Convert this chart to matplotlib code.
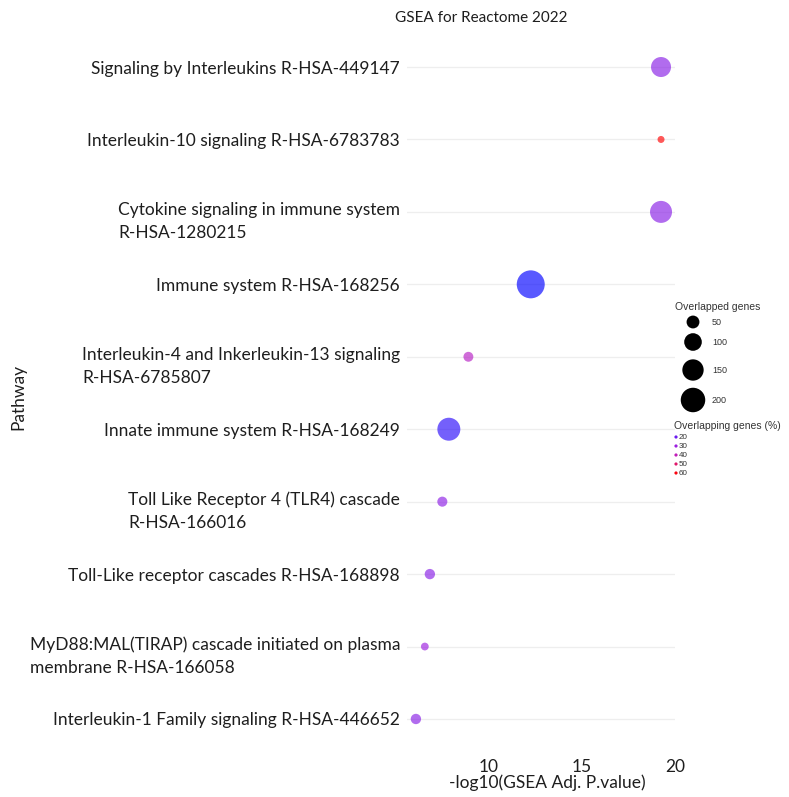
import numpy as np
import matplotlib
matplotlib.use('Agg')
import matplotlib.pyplot as plt
from matplotlib.colors import LinearSegmentedColormap, Normalize

# pathways, top to bottom
pathways = [
    'Signaling by Interleukins R-HSA-449147',
    'Interleukin-10 signaling R-HSA-6783783',
    'Cytokine signaling in immune system\nR-HSA-1280215',
    'Immune system R-HSA-168256',
    'Interleukin-4 and Inkerleukin-13 signaling\nR-HSA-6785807',
    'Innate immune system R-HSA-168249',
    'Toll Like Receptor 4 (TLR4) cascade\nR-HSA-166016',
    'Toll-Like receptor cascades R-HSA-168898',
    'MyD88:MAL(TIRAP) cascade initiated on plasma\nmembrane R-HSA-166058',
    'Interleukin-1 Family signaling R-HSA-446652',
]
log_padj = [19.25, 19.25, 19.25, 12.25, 8.9, 7.85, 7.5, 6.83, 6.56, 6.08]
overlap_genes = [131, 10, 160, 263, 27, 175, 28, 30, 14, 30]
overlap_pct = [26, 62, 26, 10, 37, 14, 27, 26, 30, 26]

size_breaks = [50, 100, 150, 200]
pct_breaks = [20, 30, 40, 50, 60]

# blue -> purple -> red gradient for the overlap percentage
cmap = LinearSegmentedColormap.from_list(
    'pct', [(0.0, '#0000ff'), (0.19, '#6a1bf0'), (0.38, '#9a1ee0'),
            (0.58, '#c21cb8'), (0.77, '#e0186a'), (1.0, '#ff0000')])
norm = Normalize(vmin=10, vmax=62)


def diam_px(n):
    """marker diameter in pixels for a gene count (area scales with count)"""
    return np.sqrt(2.9 * np.asarray(n, dtype=float) + 20)


def size_pts2(n):
    return (diam_px(n) * 0.72) ** 2


W, H = 789, 797
fig = plt.figure(figsize=(W / 100, H / 100), dpi=100)
ax = fig.add_axes([0.5158, 0.0479, 0.3397, 0.918])

ypos = np.arange(len(pathways))
ax.scatter(log_padj, ypos, s=size_pts2(overlap_genes),
           c=cmap(norm(overlap_pct)), alpha=0.65, edgecolors='none', zorder=3)

ax.set_xlim(5.6, 20.0)
ax.set_ylim(9.55, -0.55)
ax.set_xticks([10, 15, 20])
ax.set_yticks(ypos)
ax.set_yticklabels([])

txt_col = '#1e1e1e'
fs = 12.5
for lab in ax.get_xticklabels():
    lab.set_fontfamily('Lato')
    lab.set_fontsize(fs)
    lab.set_color(txt_col)
ax.tick_params(axis='both', length=0)
ax.tick_params(axis='x', pad=0)

# pathway names: block right-aligned at the axis, lines left-aligned,
# first line level with the row
for y, name in zip(ypos, pathways):
    dy = -3.5 if '\n' in name else 0
    ax.annotate(name, xy=(0, y), xycoords=('axes fraction', 'data'),
                xytext=(-5, dy), textcoords='offset points',
                ha='right', va='center_baseline', multialignment='left',
                linespacing=1.5, fontfamily='Lato', fontsize=fs, color=txt_col,
                annotation_clip=False)

ax.grid(axis='y', color='#eeeeee', lw=0.9, zorder=0)
ax.grid(axis='x', visible=False)
for sp in ax.spines.values():
    sp.set_visible(False)

# axis titles and plot title placed in pixel positions
fig.text(547 / W, 1 - 783 / H, '-log10(GSEA Adj. P.value)', ha='center', va='center',
         fontfamily='Lato', fontsize=fs, color=txt_col)
fig.text(18 / W, 1 - 397 / H, 'Pathway', rotation=90, ha='center', va='center',
         fontfamily='Lato', fontsize=fs, color=txt_col)
fig.text(395 / W, 1 - 18 / H, 'GSEA for Reactome 2022', ha='left', va='center',
         fontfamily='Lato', fontsize=11, color=txt_col)

# legends drawn on an overlay axes in pixel units
lax = fig.add_axes([0, 0, 1, 1], facecolor='none')
lax.set_xlim(0, W)
lax.set_ylim(H, 0)
lax.axis('off')

leg_font = {'family': 'Liberation Sans', 'color': '#333333'}
lax.text(675, 307, 'Overlapped genes', ha='left', va='center', fontsize=7.5, **leg_font)
size_rows = [322, 342, 370, 400]
lax.scatter([693] * len(size_breaks), size_rows, s=size_pts2(size_breaks),
            color='black', edgecolors='none')
for b, yy in zip(size_breaks, size_rows):
    lax.text(712, yy, str(b), ha='left', va='center', fontsize=6.5, **leg_font)

lax.text(674, 426, 'Overlapping genes (%)', ha='left', va='center', fontsize=7.5, **leg_font)
pct_rows = [437, 446, 455, 464, 473]
lax.scatter([676] * len(pct_breaks), pct_rows, s=(3.2 * 0.72) ** 2,
            color=cmap(norm(pct_breaks)), edgecolors='none')
for b, yy in zip(pct_breaks, pct_rows):
    lax.text(679, yy, str(b), ha='left', va='center', fontsize=5.8, **leg_font)

fig.savefig('out.png', dpi=100, facecolor='white')
